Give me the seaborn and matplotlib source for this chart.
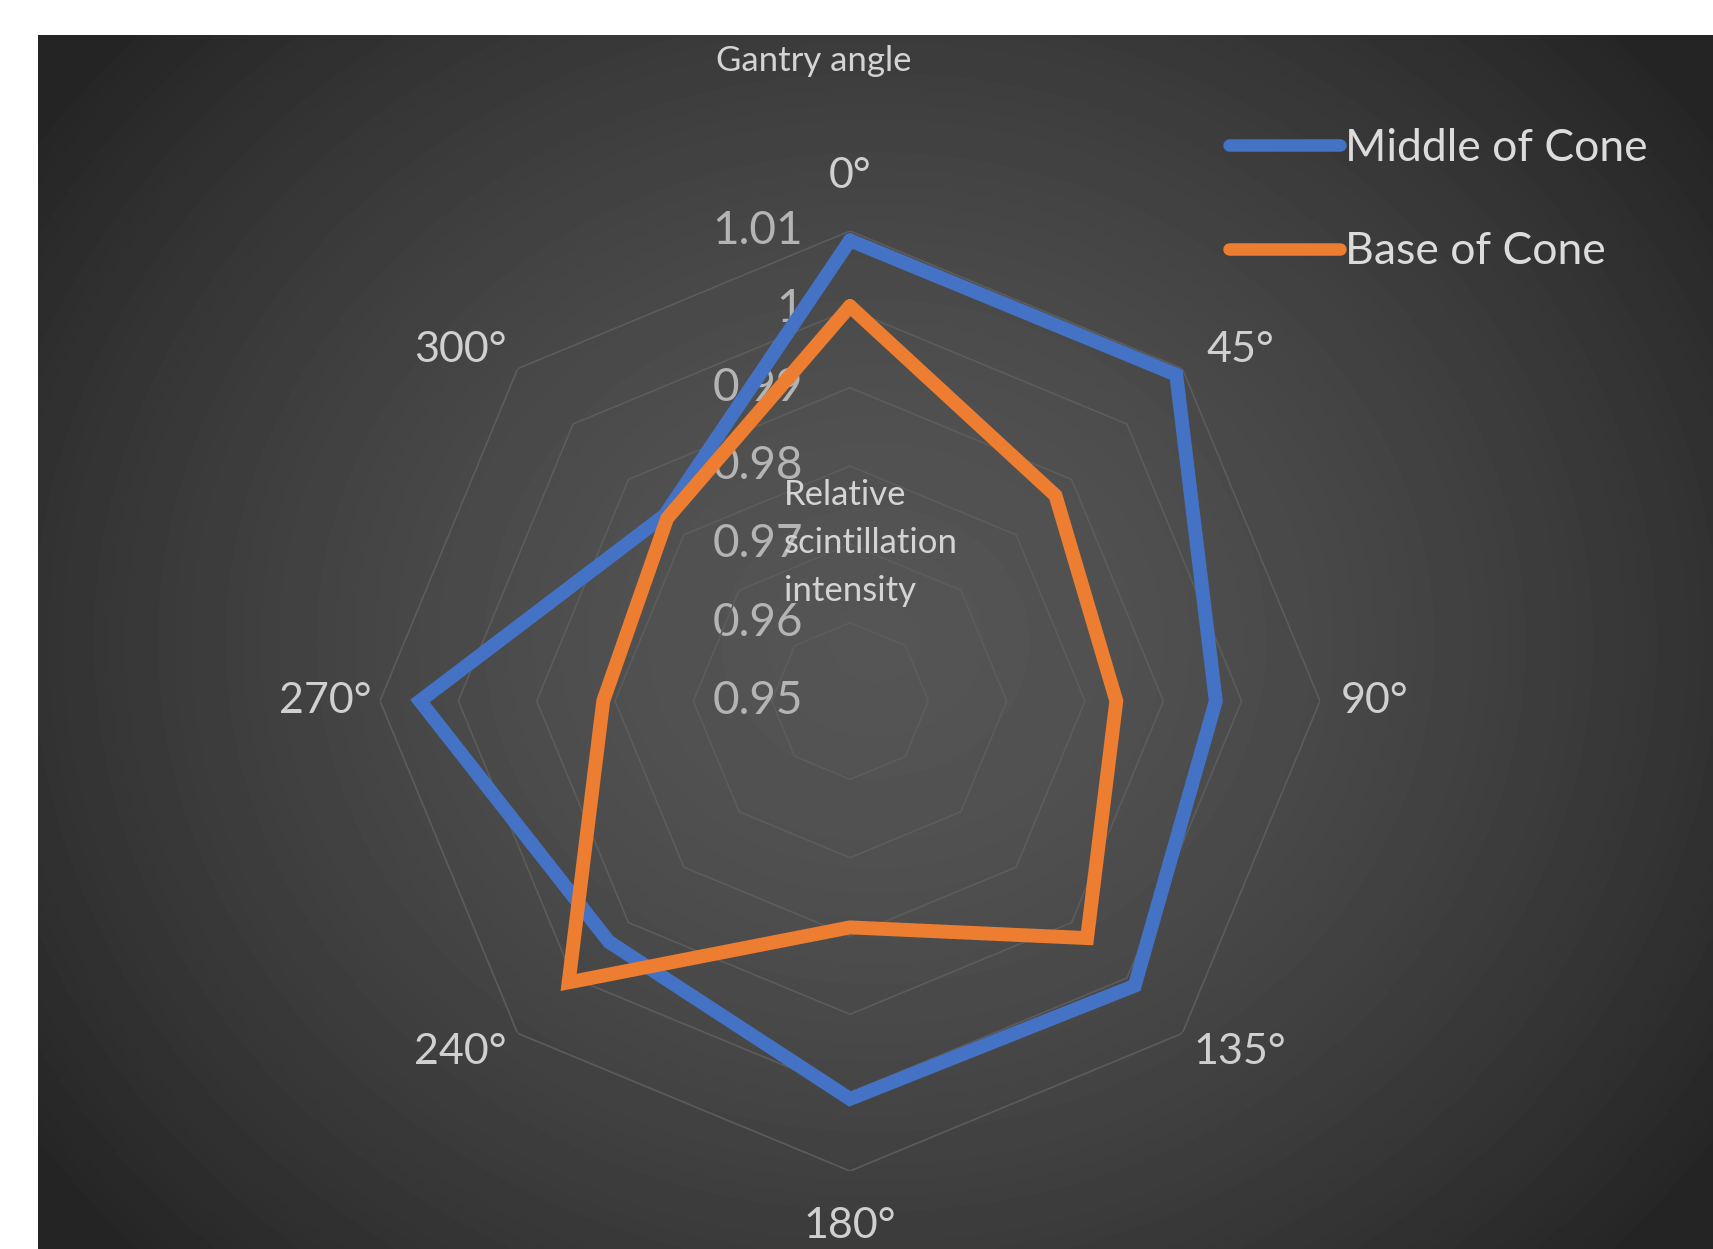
import matplotlib.pyplot as plt
import numpy as np
import pandas as pd
import seaborn as sns
from matplotlib import transforms
from matplotlib.lines import Line2D

sns.set_theme(style="white")
plt.rcParams["font.family"] = ["Lato", "DejaVu Sans"]

# gantry angles (spokes are evenly spaced, as in the original radar chart)
ANGLES = ["0°", "45°", "90°", "135°", "180°", "240°", "270°", "300°"]
MIDDLE = [1.0088, 1.0089, 0.9967, 1.0014, 1.0008, 0.9935, 1.0049, 0.9835]
BASE = [1.0004, 0.9871, 0.9840, 0.9928, 0.9789, 1.0008, 0.9815, 0.9830]
SERIES = ["Middle of Cone", "Base of Cone"]
RINGS = [0.96, 0.97, 0.98, 0.99, 1.00, 1.01]
RING_LABELS = ["0.95", "0.96", "0.97", "0.98", "0.99", "1", "1.01"]
RMIN, RMAX = 0.95, 1.01
COLORS = ["#4472C4", "#ED7D31"]

W, H = 1713, 1249
theta = np.linspace(0, 2 * np.pi, len(ANGLES), endpoint=False)
theta_closed = np.append(theta, 2 * np.pi)

rows = []
for name, vals in zip(SERIES, [MIDDLE, BASE]):
    for t, v in zip(theta_closed, vals + vals[:1]):
        rows.append({"theta": t, "value": v, "series": name})
df = pd.DataFrame(rows)

fig = plt.figure(figsize=(W / 100, H / 100), dpi=100)
fig.patch.set_facecolor("white")

# dark panel with a radial gradient
bg = fig.add_axes([38 / W, 0, 1 - 38 / W, 1 - 35 / H])
yy, xx = np.mgrid[0:1:300j, 0:1:400j]
d = np.sqrt(((xx - 0.5) / 0.62) ** 2 + ((yy - 0.5) / 0.75) ** 2)
shade = 0x55 - (0x55 - 0x24) * np.clip(d, 0, 1) ** 1.6
bg.imshow(shade / 255, cmap="gray", vmin=0, vmax=1, aspect="auto",
          extent=[0, 1, 0, 1], interpolation="bilinear")
bg.set_axis_off()

cx, cy, rad = 850, 701, 470
ax = fig.add_axes([(cx - rad) / W, (H - cy - rad) / H, 2 * rad / W, 2 * rad / H],
                  projection="polar")
ax.set_facecolor("none")
ax.set_theta_zero_location("N")
ax.set_theta_direction(-1)
ax.set_ylim(RMIN, RMAX)
ax.grid(False)
ax.spines["polar"].set_visible(False)
ax.set_xticks([])
ax.set_yticks([])

for lvl in RINGS:
    ax.plot(theta_closed, [lvl] * len(theta_closed), color="#5c5c5c", lw=1.2, zorder=1)

sns.lineplot(data=df, x="theta", y="value", hue="series", hue_order=SERIES,
             palette=COLORS, sort=False, estimator=None,
             lw=10, legend=False, ax=ax)
for ln in ax.get_lines()[-2:]:
    ln.set_solid_joinstyle("miter")
ax.set_xlabel("")
ax.set_ylabel("")

for t, lab in zip(theta, ANGLES):
    tl = t + np.deg2rad(3) * np.sin(2 * t)
    ax.text(tl, RMAX + 0.007, lab, ha="center", va="center", fontsize=31, color="#d0d0d0")

off = transforms.offset_copy(ax.transData, fig=fig, x=-47, y=0, units="dots")
for lvl, lab in zip([RMIN] + RINGS, RING_LABELS):
    ax.text(0, lvl, lab, transform=off, ha="right", va="center", fontsize=33,
            color="#b4b4b4", zorder=0)

fig.text(784 / W, 1 - 543 / H, "Relative\nscintillation\nintensity", ha="left",
         va="center", fontsize=25, color="#d4d4d4", linespacing=1.62)
fig.text(814 / W, 1 - 61 / H, "Gantry angle", ha="center", va="center",
         fontsize=25, color="#d4d4d4")

handles = [Line2D([], [], color=c, lw=9, solid_capstyle="round") for c in COLORS]
fig.legend(handles, SERIES, loc="upper left", bbox_to_anchor=(1229 / W, 1 - 128 / H),
           frameon=False, fontsize=32, labelcolor="#dcdcdc", handlelength=2.5,
           handletextpad=0.1, labelspacing=1.4, borderpad=0, borderaxespad=0)

fig.savefig("out.png", dpi=100)
